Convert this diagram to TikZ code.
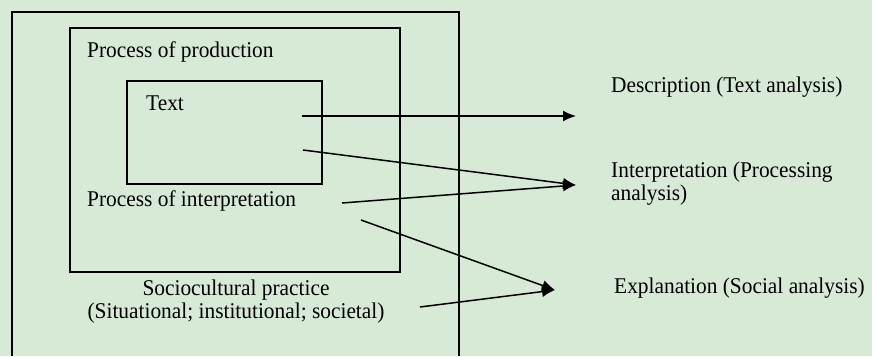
\documentclass[tikz,border=0pt]{standalone}
\usepackage{fontspec}
\setmainfont{Liberation Serif}[FakeStretch=0.95]
\usetikzlibrary{arrows.meta}
\definecolor{bggreen}{RGB}{214,234,214}
\begin{document}
\begin{tikzpicture}[x=1pt,y=-1pt,
  lbl/.style={inner sep=0pt, font=\fontsize{22.5}{24}\selectfont, text=black},
  boxline/.style={line width=2.1pt},
  arr/.style={line width=1.5pt, -{Latex[length=13pt,width=11pt]}}
]
\fill[bggreen] (0,0) rectangle (872,356);
\useasboundingbox (0,0) rectangle (872,356);

% outer box (open at bottom, runs off the picture)
\draw[boxline] (12,356) -- (12,12) -- (459,12) -- (459,356);
% middle and inner boxes
\node[draw, boxline, inner sep=0pt, minimum width=330pt, minimum height=244pt] (mid) at (235,150) {};
\node[draw, boxline, inner sep=0pt, minimum width=195pt, minimum height=103pt] (inner) at (224.5,132.5) {};

% labels inside boxes
\node[lbl, anchor=base west] (prod) at (87,57) {Process of production};
\node[lbl, anchor=base west] (text) at (146,110) {Text};
\node[lbl, anchor=base west] (interp) at (87,206) {Process of interpretation};
\node[lbl, anchor=base] (socio1) at (236,295) {Sociocultural practice};
\node[lbl, anchor=base] (socio2) at (236,318) {(Situational; institutional; societal)};

% labels on the right
\node[lbl, anchor=base west] (desc) at (611,92) {Description (Text analysis)};
\node[lbl, anchor=base west] (interpA) at (611,177) {Interpretation (Processing};
\node[lbl, anchor=base west] (interpB) at (611,200) {analysis)};
\node[lbl, anchor=base west] (expl) at (614,293) {Explanation (Social analysis)};

% arrow start and tip points
\coordinate (s1) at (302,116);
\coordinate (t1) at (576,116);
\coordinate (s2) at (303,150);
\coordinate (s3) at (342,203);
\coordinate (t2) at (576,185);
\coordinate (s4) at (361,220);
\coordinate (s5) at (420,307);
\coordinate (t3) at (555,290);

\draw[arr] (s1) -- (t1);
\draw[arr] (s2) -- (t2);
\draw[arr] (s3) -- (t2);
\draw[arr] (s4) -- (t3);
\draw[arr] (s5) -- (t3);
\end{tikzpicture}
\end{document}
